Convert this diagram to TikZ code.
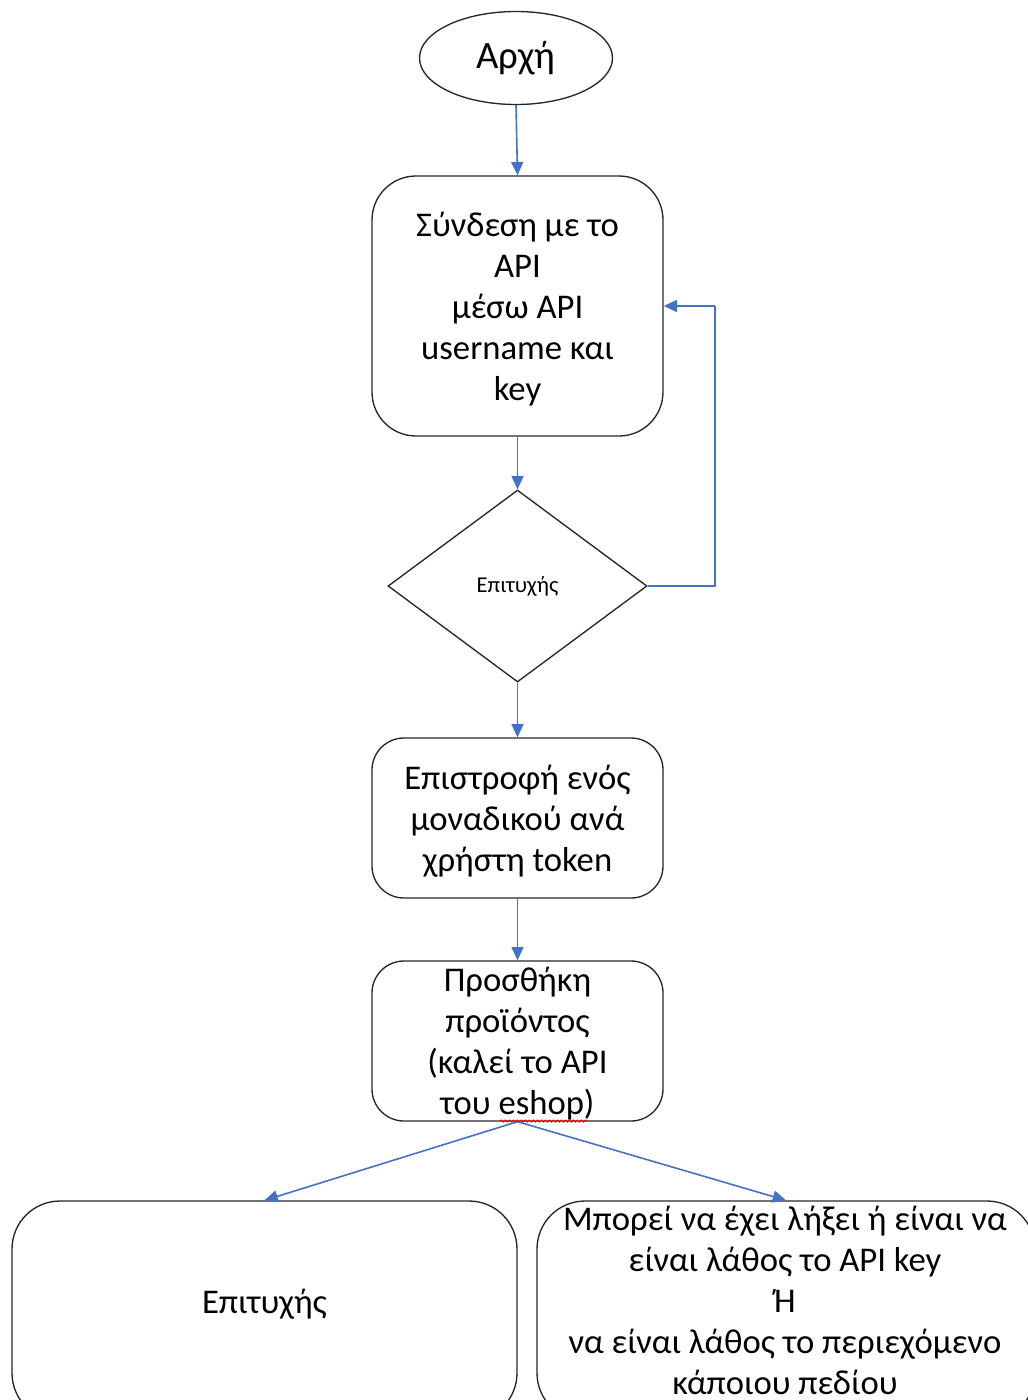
\documentclass[tikz,border=0pt]{standalone}
\usepackage{fontspec}
\setmainfont{Carlito}
\usetikzlibrary{shapes.geometric,arrows.meta,decorations.pathmorphing}
\definecolor{conblue}{HTML}{4472C4}
\tikzset{
  box/.style={draw=black!85, line width=1pt, rounded corners=#1, align=center, inner sep=0pt,
    font=\fontsize{26}{30.75}\selectfont},
  box/.default=33pt,
  conn/.style={draw=conblue, line width=1.2pt, -{Triangle[length=10pt,width=9pt]}},
  lbl/.style={align=center, inner sep=0pt, font=\fontsize{26}{30.75}\selectfont},
}
\begin{document}
\begin{tikzpicture}[x=0.75pt,y=-0.75pt]
\useasboundingbox (0,0) rectangle (1028,1400);
\clip (0,0) rectangle (1028,1400);
\node[draw=black!85, line width=1pt, ellipse, inner sep=0pt, minimum width=144.75pt, minimum height=69.75pt,
  font=\fontsize{29}{32}\selectfont] (start) at (516,58) {Αρχή};
\node[box, minimum width=218.25pt, minimum height=195pt] (b1) at (517.5,306) {};
\node[lbl] (b1t) at (517.5,309) {Σύνδεση με το\\API\\μέσω API\\username και\\key};
\node[draw=black!85, line width=1pt, diamond, inner sep=0pt, minimum width=194.25pt, minimum height=144pt,
  font=\fontsize{17}{20}\selectfont] (d) at (517.5,586) {Επιτυχής};
\node[box=24pt, minimum width=218.25pt, minimum height=120pt] (b3) at (517.5,818) {};
\node[lbl] (b3t) at (517.5,821) {Επιστροφή ενός\\μοναδικού ανά\\χρήστη token};
\node[box=24pt, minimum width=218.25pt, minimum height=120pt] (b4) at (517.5,1041) {};
\node[lbl] (b4t) at (517.5,1044) {Προσθήκη\\προϊόντος\\(καλεί το API\\του eshop)};
\node[box=36pt, minimum width=378.75pt, minimum height=165pt] (b5) at (264.5,1311) {};
\node[lbl] (b5t) at (264.5,1304) {Επιτυχής};
\node[box=36pt, minimum width=373.5pt, minimum height=165pt] (b6) at (786,1311) {};
\node[lbl, anchor=north] (b6t) at (785,1206)
  {Μπορεί να έχει λήξει ή είναι να\\είναι λάθος το API key\\Ή\\να είναι λάθος το περιεχόμενο\\κάποιου πεδίου};
\coordinate (loop) at (715,306);
\draw[conn] (start.south) -- (b1.north);
\draw[conn] (b1.south) -- (d.north);
\draw[conn, -] (d.east) -| (loop);
\draw[conn] (loop) -- (b1.east);
\draw[conn] (d.south) -- (b3.north);
\draw[conn] (b3.south) -- (b4.north);
\draw[conn] (b4.south) -- (b5.north);
\draw[conn] (b4.south) -- (b6.north);
\draw[red, line width=0.7pt, decorate, decoration={snake, amplitude=0.8pt, segment length=3pt}] (500,1121) -- (588,1121);
\end{tikzpicture}
\end{document}
